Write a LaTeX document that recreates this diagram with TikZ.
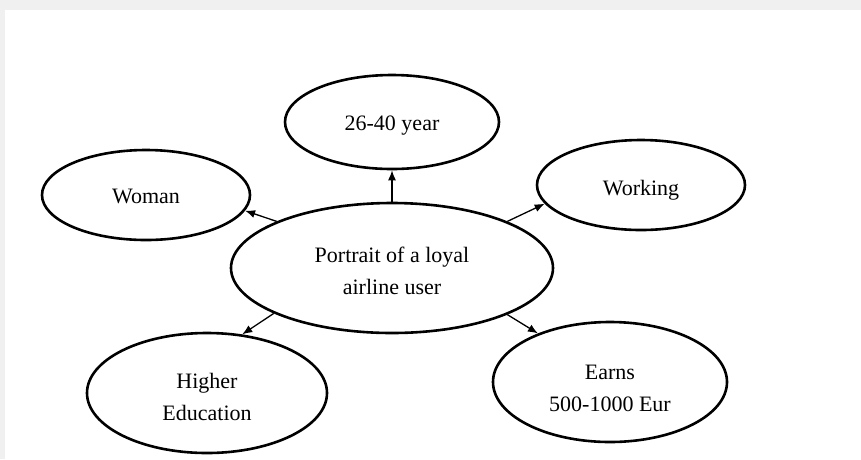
\documentclass[tikz,border=0pt]{standalone}
\usepackage{fontspec}
\setmainfont{Liberation Serif}
\usetikzlibrary{shapes.geometric,arrows.meta}
\definecolor{framegray}{HTML}{EFF0EF}
\begin{document}
\begin{tikzpicture}[x=1pt,y=-1pt,
  bubble/.style={ellipse,draw=black,line width=2.6pt,inner sep=0pt},
  caption/.style={font=\fontsize{22}{32}\selectfont,align=center,inner sep=0pt},
  link/.style={line width=1.3pt,-{Latex[length=10pt,width=8pt]}}]
\useasboundingbox (0,0) rectangle (861,459);
\fill[framegray] (0,0) rectangle (861,459);
\fill[white] (5,10) rectangle (861,459);
\node[bubble,minimum width=322pt,minimum height=130pt] (c) at (392,268) {};
\node[bubble,minimum width=214pt,minimum height=94pt] (t) at (392,122) {};
\node[bubble,minimum width=208pt,minimum height=90pt] (w) at (146,195) {};
\node[bubble,minimum width=208pt,minimum height=90pt] (k) at (641,185) {};
\node[bubble,minimum width=240pt,minimum height=120pt] (h) at (207,393) {};
\node[bubble,minimum width=234pt,minimum height=120pt] (e) at (610,382) {};
\node[caption,yshift=-3pt] (ct) at (c) {Portrait of a loyal\\airline user};
\node[caption,yshift=-4pt] (tt) at (t) {26-40 year};
\node[caption,yshift=-1pt] (wt) at (w) {Woman};
\node[caption,yshift=-5pt] (kt) at (k) {Working};
\node[caption,yshift=-4pt] (ht) at (h) {Higher\\Education};
\node[caption,yshift=-6pt] (et) at (e) {Earns\\500-1000 Eur};
\draw[link] (c.north) -- (t.south);
\draw[link] (c.158.7) -- (w.351.6);
\draw[link] (c.22.1) -- (k.191.8);
\draw[link] (c.201.6) -- (h.59.7);
\draw[link] (c.338.4) -- (e.146.1);
\end{tikzpicture}
\end{document}
